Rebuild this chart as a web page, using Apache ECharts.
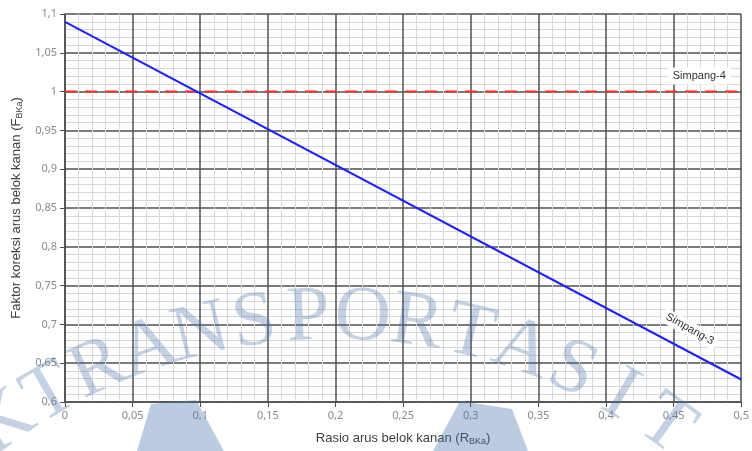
<!DOCTYPE html>
<html>
<head>
<meta charset="utf-8">
<script src="https://cdn.jsdelivr.net/npm/echarts@6/dist/echarts.min.js"></script>
<style>
  html, body { margin: 0; padding: 0; background: #fff; }
  #chart { width: 752px; height: 451px; }
</style>
</head>
<body>
<div id="chart"></div>
<script>
// Right-turn ratio (R_BKa) end points of each curve
const ratioX = [0, 0.5];
// Correction factor F_BKa for a 3-arm junction (linear)
const simpang3 = [1.09, 0.629];
// Correction factor F_BKa for a 4-arm junction (constant)
const simpang4 = [1.0, 1.0];
// Axis extents and steps
const xRange = [0, 0.5, 0.05];
const yRange = [0.6, 1.1, 0.05];
// Curve captions and where they sit
const captions = ['Simpang-4', 'Simpang-3'];
const captionAt = [[0.469, 1.02], [0.462, 0.694]];

const fmt = v => String(Number(v.toFixed(2))).replace('.', ',');

const chart = echarts.init(document.getElementById('chart'));

// faint background lettering set along an arc
const word = 'KTRANSPORTASIT';
const letters = [];
const cx = 334, cy = 884, r = 566, step = 5.5, start = -35.6;
for (let i = 0; i < word.length; i++) {
  const a = (start + i * step) * Math.PI / 180;
  letters.push({
    type: 'text',
    x: cx + r * Math.sin(a),
    y: cy - r * Math.cos(a),
    rotation: -a,
    z: 50,
    silent: true,
    style: {
      text: word[i],
      fill: 'rgba(70,115,170,0.32)',
      font: '78px "Liberation Serif", "DejaVu Serif", serif',
      align: 'center',
      verticalAlign: 'middle'
    }
  });
}
const blobs = [
  [[137, 451], [151, 404], [196, 400], [224, 451]],
  [[433, 451], [460, 401], [512, 409], [528, 451]]
].map(pts => ({
  type: 'polygon',
  z: 1,
  silent: true,
  shape: { points: pts },
  style: { fill: 'rgba(70,115,170,0.36)' }
}));

const subRich = {
  sub: { fontSize: 9, color: '#404040', fontFamily: 'Liberation Sans', verticalAlign: 'bottom', padding: [7, 0, 0, 0] }
};

const option = {
  backgroundColor: '#ffffff',
  animation: false,
  graphic: blobs.concat(letters),
  grid: { left: 65, right: 10, top: 14, bottom: 49 },
  xAxis: {
    type: 'value',
    min: xRange[0], max: xRange[1], interval: xRange[2],
    name: 'Rasio arus belok kanan (R{sub|BKa})',
    nameLocation: 'middle',
    nameGap: 28,
    nameTextStyle: { color: '#404040', fontSize: 13, fontFamily: 'Liberation Sans', rich: subRich },
    axisLine: { show: true, lineStyle: { color: '#4d4d4d', width: 1.5 } },
    axisTick: { show: true, length: 5, lineStyle: { color: '#4d4d4d' } },
    axisLabel: { formatter: fmt, color: '#8a8a8a', fontSize: 11, fontFamily: 'Noto Sans', margin: 8 },
    splitLine: { show: true, lineStyle: { color: '#505050', width: 1.5 } },
    minorTick: { show: false, splitNumber: 5 },
    minorSplitLine: { show: true, lineStyle: { color: '#d8d8d8', width: 1 } }
  },
  yAxis: {
    type: 'value',
    min: yRange[0], max: yRange[1], interval: yRange[2],
    name: 'Faktor koreksi arus belok kanan (F{sub|BKa})',
    nameLocation: 'middle',
    nameGap: 40,
    nameTextStyle: { color: '#404040', fontSize: 13, fontFamily: 'Liberation Sans', rich: subRich },
    axisLine: { show: true, lineStyle: { color: '#4d4d4d', width: 1.5 } },
    axisTick: { show: true, length: 5, lineStyle: { color: '#4d4d4d' } },
    axisLabel: { formatter: fmt, color: '#8a8a8a', fontSize: 11, fontFamily: 'Noto Sans', margin: 8 },
    splitLine: { show: true, lineStyle: { color: '#505050', width: 1.5 } },
    minorTick: { show: false, splitNumber: 5 },
    minorSplitLine: { show: true, lineStyle: { color: '#d8d8d8', width: 1 } }
  },
  series: [
    {
      name: captions[0],
      type: 'line',
      data: ratioX.map((x, i) => [x, simpang4[i]]),
      symbol: 'none',
      z: 3,
      lineStyle: { color: '#ff2a2a', width: 2, type: [12, 8] },
      markPoint: {
        symbol: 'rect', symbolSize: 1,
        itemStyle: { color: 'transparent' },
        data: [{
          coord: captionAt[0],
          label: {
            show: true, formatter: captions[0], position: 'inside',
            color: '#333', fontSize: 11, fontFamily: 'Liberation Sans',
            backgroundColor: '#fff', padding: [3, 5]
          }
        }]
      }
    },
    {
      name: captions[1],
      type: 'line',
      data: ratioX.map((x, i) => [x, simpang3[i]]),
      symbol: 'none',
      z: 4,
      lineStyle: { color: '#1f1fff', width: 2 },
      markPoint: {
        symbol: 'rect', symbolSize: 1,
        itemStyle: { color: 'transparent' },
        data: [{
          coord: captionAt[1],
          label: {
            show: true, formatter: captions[1], position: 'inside', rotate: -29,
            color: '#333', fontSize: 11, fontFamily: 'Liberation Sans',
            backgroundColor: '#fff', padding: [2, 4]
          }
        }]
      }
    }
  ]
};
chart.setOption(option);
</script>
</body>
</html>
